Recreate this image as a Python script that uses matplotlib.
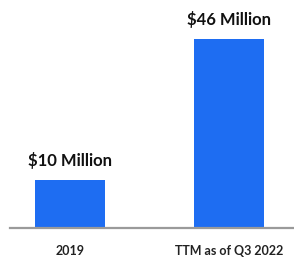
import matplotlib.pyplot as plt

categories = ['2019', 'TTM as of Q3 2022']
values = [10, 46]  # $ millions
labels = ['$10 Million', '$46 Million']

base = -2.3  # the drawn baseline sits a little below zero in the source chart

plt.rcParams['font.family'] = ['Lato', 'DejaVu Sans']

fig = plt.figure(figsize=(2.94, 2.63), dpi=100)
W, H = 294, 263
# axes: x 10..294 px, y from 39 px (top) to 228 px (baseline)
ax = fig.add_axes([10 / W, (H - 228) / H, 284 / W, (228 - 39) / H])

x = [0, 1]
ax.bar(x, [v - base for v in values], bottom=base, width=0.44, color='#1E6DF2')
ax.set_xlim(-0.377, 1.409)
ax.set_ylim(base, 46)

for xi, v, lab in zip(x, values, labels):
    ax.annotate(lab, (xi, v), xytext=(0, 8), textcoords='offset points',
                ha='center', va='bottom', fontsize=12, fontweight='bold',
                color='#111111', annotation_clip=False)

for s in ['top', 'right', 'left']:
    ax.spines[s].set_visible(False)
ax.spines['bottom'].set_color('#9a9a9a')
ax.spines['bottom'].set_linewidth(1.6)
ax.set_yticks([])
ax.set_xticks(x)
ax.set_xticklabels(categories, fontsize=9, color='#222222', fontweight='bold')
ax.tick_params(axis='x', length=0, pad=12)

fig.savefig('out.png', dpi=100)
